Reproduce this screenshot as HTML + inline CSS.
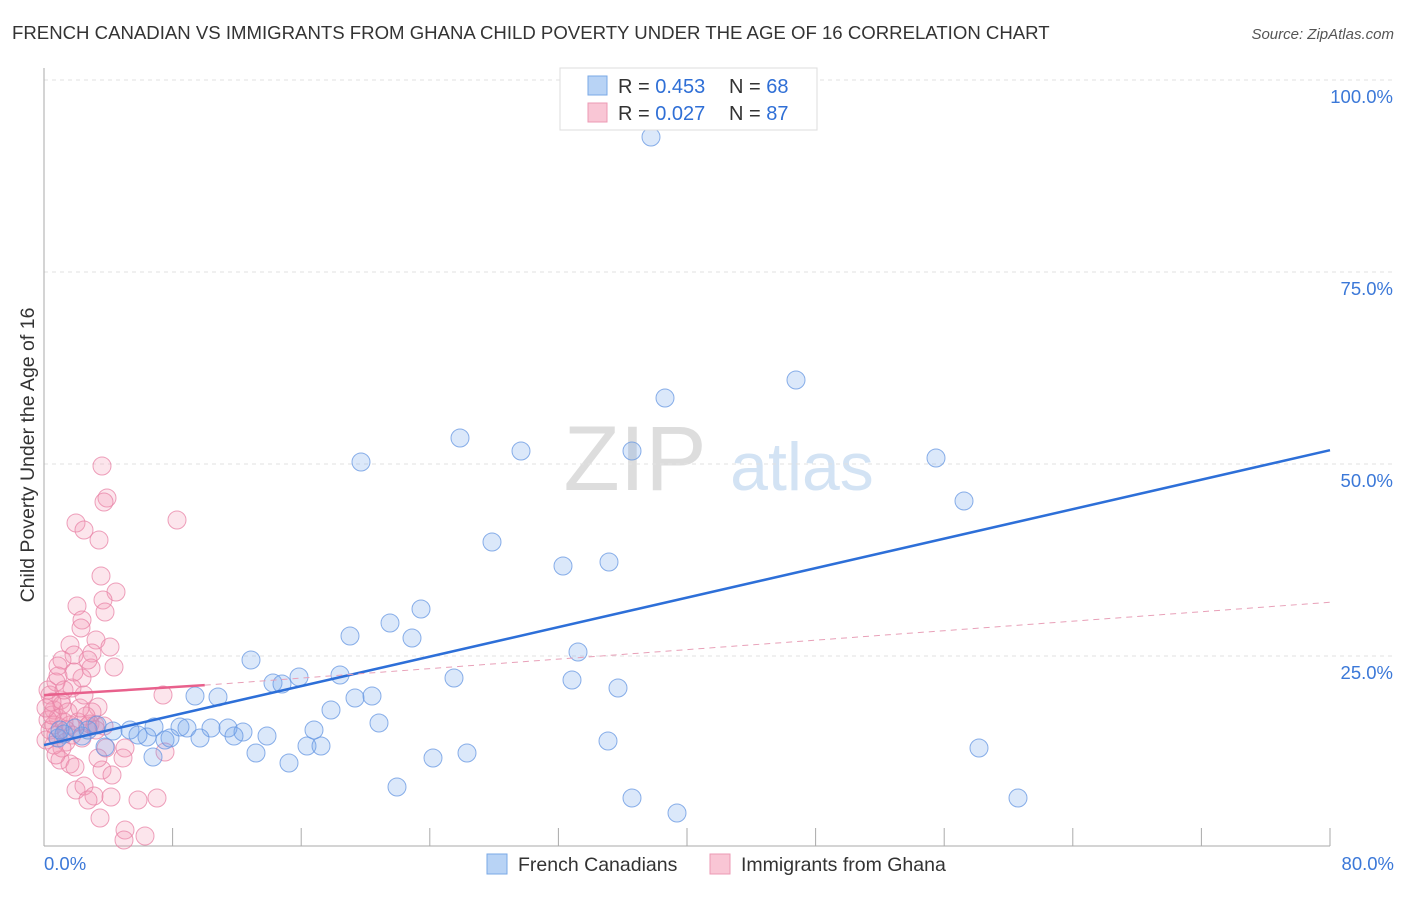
<!DOCTYPE html>
<html><head><meta charset="utf-8"><style>
body{margin:0;background:#fff;font-family:"Liberation Sans",sans-serif}
svg text{font-family:"Liberation Sans",sans-serif}
</style></head><body>
<svg id="c" width="1406" height="892">
<text x="12" y="39" font-size="18.6" fill="#333">FRENCH CANADIAN VS IMMIGRANTS FROM GHANA CHILD POVERTY UNDER THE AGE OF 16 CORRELATION CHART</text>
<text x="1394" y="39" font-size="15" fill="#555" font-style="italic" text-anchor="end">Source: ZipAtlas.com</text>
<text x="34" y="455" font-size="19.5" fill="#333" text-anchor="middle" transform="rotate(-90 34 455)">Child Poverty Under the Age of 16</text>
<g><text x="635" y="490" font-size="92" fill="#ddd" font-family="Liberation Serif" text-anchor="middle">ZIP</text><text x="802" y="490" font-size="68" fill="#d3e3f4" text-anchor="middle">atlas</text></g>
<g id="grid"></g><g id="pts"></g><g id="lines"></g>
<g>
<rect x="560" y="68" width="257" height="62" fill="#fff" stroke="#ddd"/>
<rect x="588" y="76" width="19" height="19" fill="#b8d3f5" stroke="#7aa8e6"/>
<rect x="588" y="103" width="19" height="19" fill="#f9c6d5" stroke="#ec9ab4"/>
<text x="618" y="93" font-size="20" fill="#333">R = <tspan fill="#2f6fd6">0.453</tspan></text>
<text x="729" y="93" font-size="20" fill="#333">N = <tspan fill="#2f6fd6">68</tspan></text>
<text x="618" y="120" font-size="20" fill="#333">R = <tspan fill="#2f6fd6">0.027</tspan></text>
<text x="729" y="120" font-size="20" fill="#333">N = <tspan fill="#2f6fd6">87</tspan></text>
</g>
<g>
<rect x="487" y="854" width="20" height="20" fill="#b8d3f5" stroke="#7aa8e6"/>
<text x="518" y="871" font-size="19.5" fill="#333">French Canadians</text>
<rect x="710" y="854" width="20" height="20" fill="#f9c6d5" stroke="#ec9ab4"/>
<text x="741" y="871" font-size="19.5" fill="#333">Immigrants from Ghana</text>
</g>
</svg>
<script>
const yTicks=[25,50,75,100];
const xTickLabels=["0.0%","80.0%"];
const bluePx=[[651,137],[796,380],[665,398],[460,438],[521,451],[632,451],[936,458],[361,462],[964,501],[492,542],[563,566],[609,562],[421,609],[390,623],[350,636],[412,638],[578,652],[251,660],[299,677],[340,675],[273,683],[282,684],[454,678],[572,680],[618,688],[195,696],[218,697],[355,698],[372,696],[331,710],[379,723],[314,730],[154,727],[180,727],[187,728],[211,728],[228,728],[243,732],[97,725],[113,731],[130,730],[147,737],[165,740],[200,738],[234,736],[267,736],[307,746],[321,746],[256,753],[153,757],[289,763],[433,758],[467,753],[608,741],[979,748],[397,787],[632,798],[677,813],[1018,798],[58,738],[64,734],[82,736],[105,747],[170,738],[138,735],[88,730],[60,730],[75,728]];
const pinkPx=[[102,466],[107,498],[104,502],[177,520],[76,523],[84,530],[99,540],[101,576],[116,592],[103,600],[105,612],[77,606],[82,620],[81,628],[70,645],[96,640],[110,647],[92,653],[62,660],[58,666],[91,668],[114,667],[82,678],[72,688],[56,682],[163,695],[50,695],[61,700],[98,707],[54,710],[92,712],[58,718],[48,720],[64,722],[70,725],[88,726],[95,725],[50,730],[56,735],[82,738],[46,740],[66,742],[54,725],[52,715],[106,748],[125,748],[165,752],[60,760],[70,764],[75,767],[123,758],[102,770],[98,758],[76,790],[84,786],[94,796],[88,800],[111,797],[138,800],[157,798],[100,818],[125,830],[124,840],[145,836],[62,705],[52,702],[68,712],[78,722],[86,716],[48,690],[58,676],[74,672],[66,730],[90,724],[46,708],[62,748],[72,735],[80,708],[54,745],[96,730],[84,695],[64,690],[104,726],[56,755],[112,775],[74,655],[88,660]];
// data values (x%, y%)
const blueData=bluePx.map(p=>[(p[0]-44)/16.075,(848-p[1])/7.68]);
const pinkData=pinkPx.map(p=>[(p[0]-44)/16.075,(848-p[1])/7.68]);
const blueTrend=[[0,13.4],[80,51.8]];
const pinkTrend=[[0,19.9],[10,21.2],[80,32.0]];
const X=v=>44+v*1286/80, Y=v=>848-v*7.68;
const NS='http://www.w3.org/2000/svg';
function mk(t,a,p){const e=document.createElementNS(NS,t);for(const k in a)e.setAttribute(k,a[k]);p.appendChild(e);return e;}
const g=document.getElementById('grid');
yTicks.forEach(v=>{const l=mk('line',{x1:44,x2:1394,y1:Y(v),y2:Y(v),stroke:'#e2e2e2','stroke-dasharray':'4,4'},g);


const t=mk('text',{x:1393,y:Y(v)+23,'font-size':18.5,fill:'#3b78d8','text-anchor':'end'},g);t.textContent=v.toFixed(1)+'%';

});
mk('line',{x1:44,x2:44,y1:68,y2:846,stroke:'#aaa'},g);
mk('line',{x1:44,x2:1330,y1:846,y2:846,stroke:'#aaa'},g);
for(let i=0;i<=10;i++){const t=mk('line',{x1:X(i*8),x2:X(i*8),y1:828,y2:846,stroke:'#aaa'},g);

}
[[0,'start',44],[80,'end',1394]].forEach((d,i)=>{const t=mk('text',{x:d[2],y:870,'font-size':18.5,fill:'#3b78d8','text-anchor':d[1]},g);t.textContent=xTickLabels[i];

});
const pg=document.getElementById('pts');
pinkData.forEach(d=>{const c=mk('circle',{cx:X(d[0]),cy:Y(d[1]),r:9,fill:'rgba(244,150,180,0.25)',stroke:'rgba(232,130,165,0.75)','stroke-width':1},pg);

});
blueData.forEach(d=>{const c=mk('circle',{cx:X(d[0]),cy:Y(d[1]),r:9,fill:'rgba(110,165,235,0.25)',stroke:'rgba(100,150,225,0.75)','stroke-width':1},pg);

});
const lg=document.getElementById('lines');
let l=mk('line',{x1:X(blueTrend[0][0]),y1:Y(blueTrend[0][1]),x2:X(blueTrend[1][0]),y2:Y(blueTrend[1][1]),stroke:'#2d6fd8','stroke-width':2.5},lg);


l=mk('line',{x1:X(pinkTrend[0][0]),y1:Y(pinkTrend[0][1]),x2:X(pinkTrend[1][0]),y2:Y(pinkTrend[1][1]),stroke:'#e8608c','stroke-width':2.5},lg);


l=mk('line',{x1:X(pinkTrend[1][0]),y1:Y(pinkTrend[1][1]),x2:X(pinkTrend[2][0]),y2:Y(pinkTrend[2][1]),stroke:'#e8a0b8','stroke-width':1,'stroke-dasharray':'6,5'},lg);


</script>
</body></html>
